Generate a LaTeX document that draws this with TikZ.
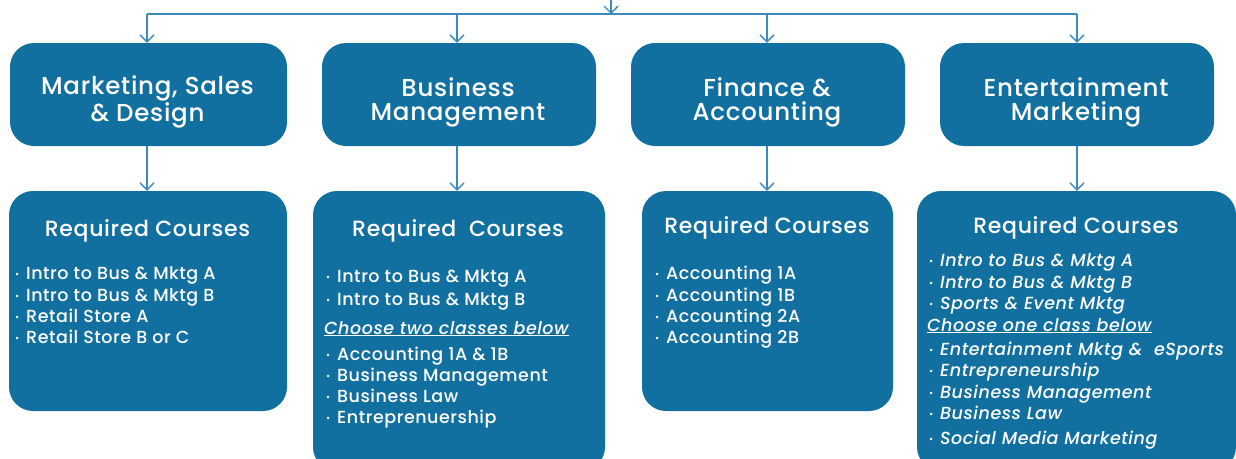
\documentclass[tikz,border=0pt]{standalone}
\usepackage{fontspec}
\setmainfont{Poppins Medium}[ItalicFont={Poppins Medium Italic},LetterSpace=3]
\usetikzlibrary{arrows.meta}
\definecolor{boxblue}{RGB}{18,112,160}
\definecolor{linkblue}{RGB}{58,138,190}
\newcommand\bul{\makebox[11pt][l]{\fontsize{9}{9}\selectfont\raisebox{1.5pt}{•}}}

\begin{document}
\begin{tikzpicture}[x=1pt,y=-1pt,
  pathway/.style={rectangle,rounded corners=24pt,fill=boxblue,minimum width=274pt,minimum height=103pt},
  title/.style={text=white,align=center,inner sep=0pt,font=\fontsize{24.5}{24}\selectfont},
  reqbox/.style={rectangle,rounded corners=24pt,fill=boxblue},
  reqhead/.style={text=white,inner sep=0pt,font=\fontsize{22}{22}\selectfont},
  course/.style={text=white,anchor=base west,inner sep=0pt,font=\fontsize{17.5}{17.5}\selectfont},
  choice/.style={course,font=\fontsize{17.5}{17.5}\selectfont\itshape},
  link/.style={draw=linkblue,line width=1.3pt},
  down/.style={link,-{Straight Barb[length=7pt,width=14pt]}}]
\useasboundingbox (0,0) rectangle (1236,458);

% pathway boxes
\node (msd) at (148.5,94.5) [pathway,minimum width=277pt] {};
\node (bm) at (459,94.5) [pathway] {};
\node (fa) at (768,94.5) [pathway] {};
\node (em) at (1077,94.5) [pathway] {};
\node (msdt) at (147.5,102) [title] {Marketing, Sales\\\& Design};
\node (bmt) at (458,102) [title] {Business\\Management};
\node (fat) at (767,102) [title] {Finance \&\\Accounting};
\node (emt) at (1076,102) [title] {Entertainment\\Marketing};

% course boxes
\node (msdreq) at (148,301) [reqbox,minimum width=278pt,minimum height=220pt] {};
\node (bmreq) at (459,331) [reqbox,minimum width=292pt,minimum height=280pt] {};
\node (fareq) at (767.5,301) [reqbox,minimum width=251pt,minimum height=220pt] {};
\node (emreq) at (1076.5,331) [reqbox,minimum width=319pt,minimum height=280pt] {};

% connectors
\coordinate (root) at (611,-2);
\coordinate (jc) at (611,14);
\coordinate (j1) at (147,14);
\coordinate (j2) at (457,14);
\coordinate (j3) at (767,14);
\coordinate (j4) at (1077,14);
\draw [down] (root) -- (jc);
\draw [link] (j1) -- (j4);
\draw [down] (j1) -- (j1 |- msd.north);
\draw [down] (j2) -- (j2 |- bm.north);
\draw [down] (j3) -- (j3 |- fa.north);
\draw [down] (j4) -- (j4 |- em.north);
\draw [down] (j1 |- msd.south) -- (j1 |- msdreq.north);
\draw [down] (j2 |- bm.south) -- (j2 |- bmreq.north);
\draw [down] (j3 |- fa.south) -- (j3 |- fareq.north);
\draw [down] (j4 |- em.south) -- (j4 |- emreq.north);

% Marketing, Sales & Design
\node (h1) at (147.5,231) [reqhead] {Required Courses};
\node (a1) at (15,279) [course] {\bul Intro to Bus \& Mktg A};
\node (a2) at (15,301) [course] {\bul Intro to Bus \& Mktg B};
\node (a3) at (15,322) [course] {\bul Retail Store A};
\node (a4) at (15,343) [course] {\bul Retail Store B or C};

% Business Management
\node (h2) at (458,231) [reqhead] {Required\ \ Courses};
\node (b1) at (326,282) [course] {\bul Intro to Bus \& Mktg A};
\node (b2) at (326,305) [course] {\bul Intro to Bus \& Mktg B};
\node (b3) at (324,334) [choice] {\underline{Choose two classes below}};
\node (b4) at (326,360) [course] {\bul Accounting 1A \& 1B};
\node (b5) at (326,381) [course] {\bul Business Management};
\node (b6) at (326,402) [course] {\bul Business Law};
\node (b7) at (326,423) [course] {\bul Entreprenuership};

% Finance & Accounting
\node (h3) at (767,228) [reqhead] {Required Courses};
\node (c1) at (655,279) [course] {\bul Accounting 1A};
\node (c2) at (655,301) [course] {\bul Accounting 1B};
\node (c3) at (655,322) [course] {\bul Accounting 2A};
\node (c4) at (655,343) [course] {\bul Accounting 2B};

% Entertainment Marketing
\node (h4) at (1076,228) [reqhead] {Required Courses};
\node (d1) at (929,266) [choice] {\bul Intro to Bus \& Mktg A};
\node (d2) at (929,288) [choice] {\bul Intro to Bus \& Mktg B};
\node (d3) at (929,309) [choice] {\bul Sports \& Event Mktg};
\node (d4) at (927,331) [choice] {\underline{Choose one class below}};
\node (d5) at (929,355) [choice] {\bul Entertainment Mktg \&\ \ eSports};
\node (d6) at (929,376) [choice] {\bul Entrepreneurship};
\node (d7) at (929,398) [choice] {\bul Business Management};
\node (d8) at (929,419) [choice] {\bul Business Law};
\node (d9) at (929,444) [choice] {\bul Social Media Marketing};
\end{tikzpicture}
\end{document}
